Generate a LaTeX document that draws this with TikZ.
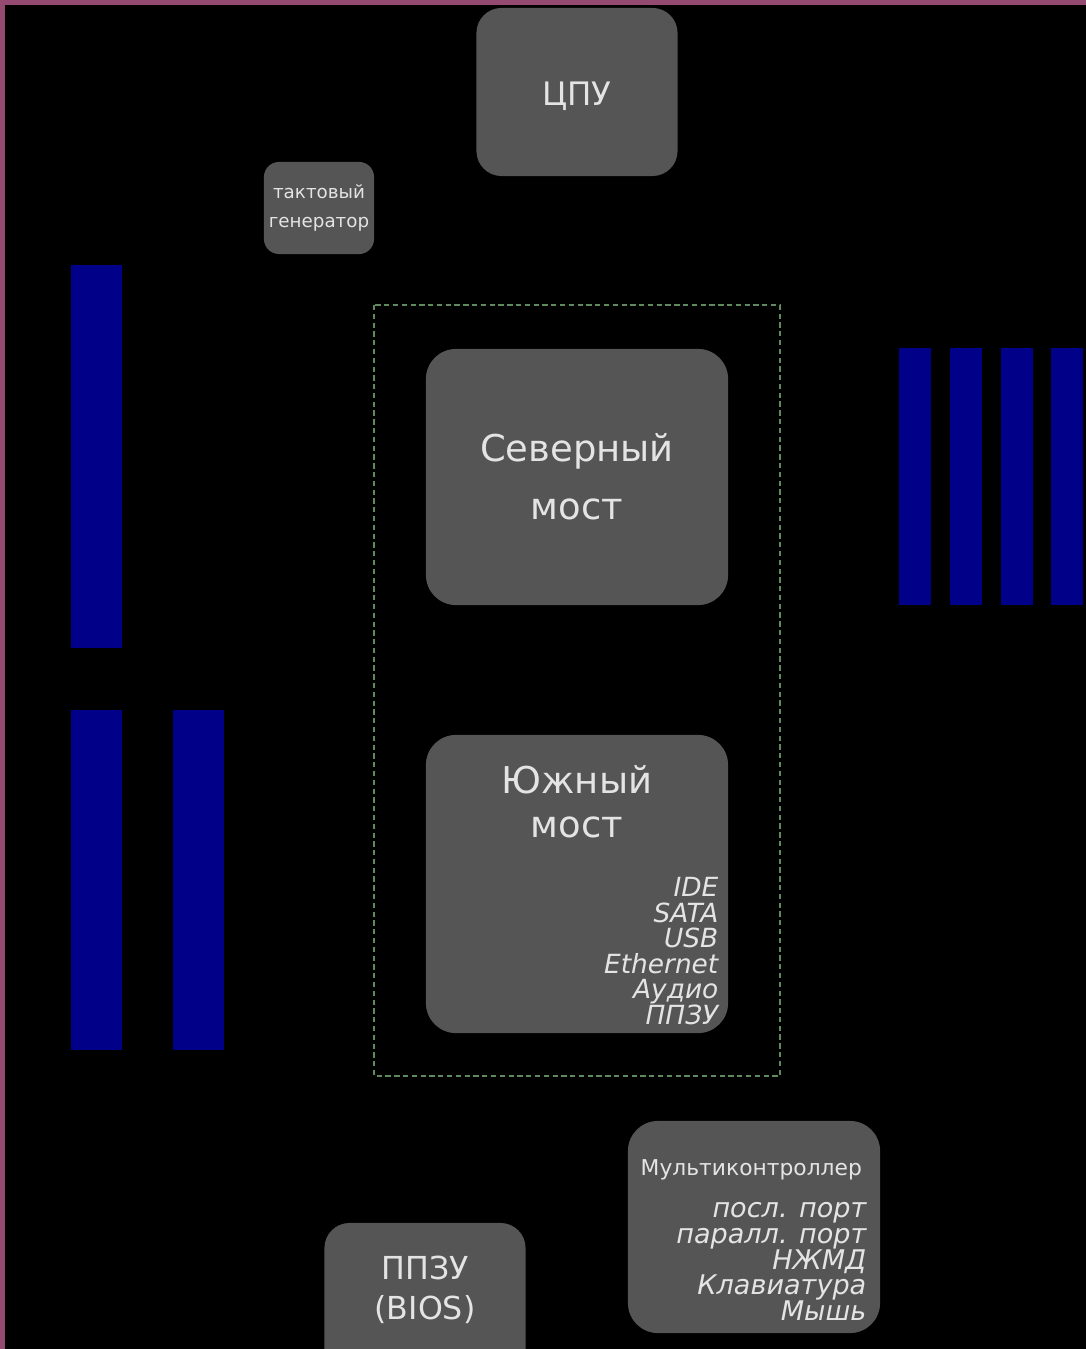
\documentclass[tikz,border=0pt]{standalone}
\usepackage{fontspec}
\setmainfont{DejaVu Sans}
\usepackage{xcolor}
\usepackage{tikz}
\usetikzlibrary{positioning}
\definecolor{chipgray}{HTML}{555555}
\definecolor{slotblue}{HTML}{000088}
\definecolor{edgepink}{HTML}{954A72}
\definecolor{busgreen}{HTML}{5E8A5E}
\definecolor{chiptext}{HTML}{E4E4E4}

\begin{document}
\begin{tikzpicture}[x=0.01cm,y=-0.01cm,
  chip/.style={fill=chipgray, rounded corners=0.25cm, text=chiptext, align=center, inner sep=0pt},
  slot/.style={fill=slotblue},
  lbl/.style={text=chiptext, align=center, inner sep=0pt},
  lst/.style={text=chiptext, align=right, inner sep=0pt, anchor=north east}]
\fill[black] (0,0) rectangle (1086,1349);
\fill[edgepink] (0,0) rectangle (1086,5);
\fill[edgepink] (0,0) rectangle (5,1349);
\clip (0,0) rectangle (1086,1349);
% slots
\foreach \x/\ya/\yb in {71/265/648, 71/710/1050, 173/710/1050}
  \fill[slot] (\x,\ya) rectangle (\x+51,\yb);
\foreach \x in {899,950,1001,1051}
  \fill[slot] (\x,348) rectangle (\x+32,605);
% chipset
\draw[busgreen, line width=0.6pt, dash pattern=on 1.5pt off 1pt] (374,305) rectangle (780,1076);
\node[chip, minimum width=2.01cm, minimum height=1.68cm] (cpu) at (577,92) {};
\node[lbl, font=\fontsize{9.2}{11}\selectfont] (cpuname) at (577,96) {ЦПУ};
\node[chip, minimum width=1.1cm, minimum height=0.92cm, rounded corners=0.15cm, font=\fontsize{5.2}{8}\selectfont] (clk) at (319,208) {тактовый\\генератор};
\node[chip, minimum width=3.02cm, minimum height=2.56cm, rounded corners=0.3cm, font=\fontsize{10.5}{16.5}\selectfont] (nb) at (577,477) {Северный\\мост};
\node[chip, minimum width=3.02cm, minimum height=2.98cm, rounded corners=0.3cm] (sb) at (577,884) {};
\node[lbl, font=\fontsize{10.5}{12.5}\selectfont] (sbname) at (577,802) {Южный\\мост};
\node[lst, font=\fontsize{7.5}{7.25}\selectfont\itshape] (sbio) at (719,877) {IDE\\SATA\\USB\\Ethernet\\Аудио\\ППЗУ};
\node[chip, minimum width=2.52cm, minimum height=2.12cm, rounded corners=0.3cm] (mc) at (754,1227) {};
\node[lbl, anchor=base west, font=\fontsize{6.2}{7}\selectfont] (mcname) at (640,1175) {Мультиконтроллер};
\node[lst, font=\fontsize{7.7}{7.3}\selectfont\itshape] (mcio) at (867,1202) {посл. порт\\паралл. порт\\НЖМД\\Клавиатура\\Мышь};
\node[chip, minimum width=2.01cm, minimum height=1.68cm] (bios) at (425,1307) {};
\node[lbl, font=\fontsize{9}{11.4}\selectfont] (biosname) at (425,1290) {ППЗУ\\(BIOS)};
\end{tikzpicture}
\end{document}
